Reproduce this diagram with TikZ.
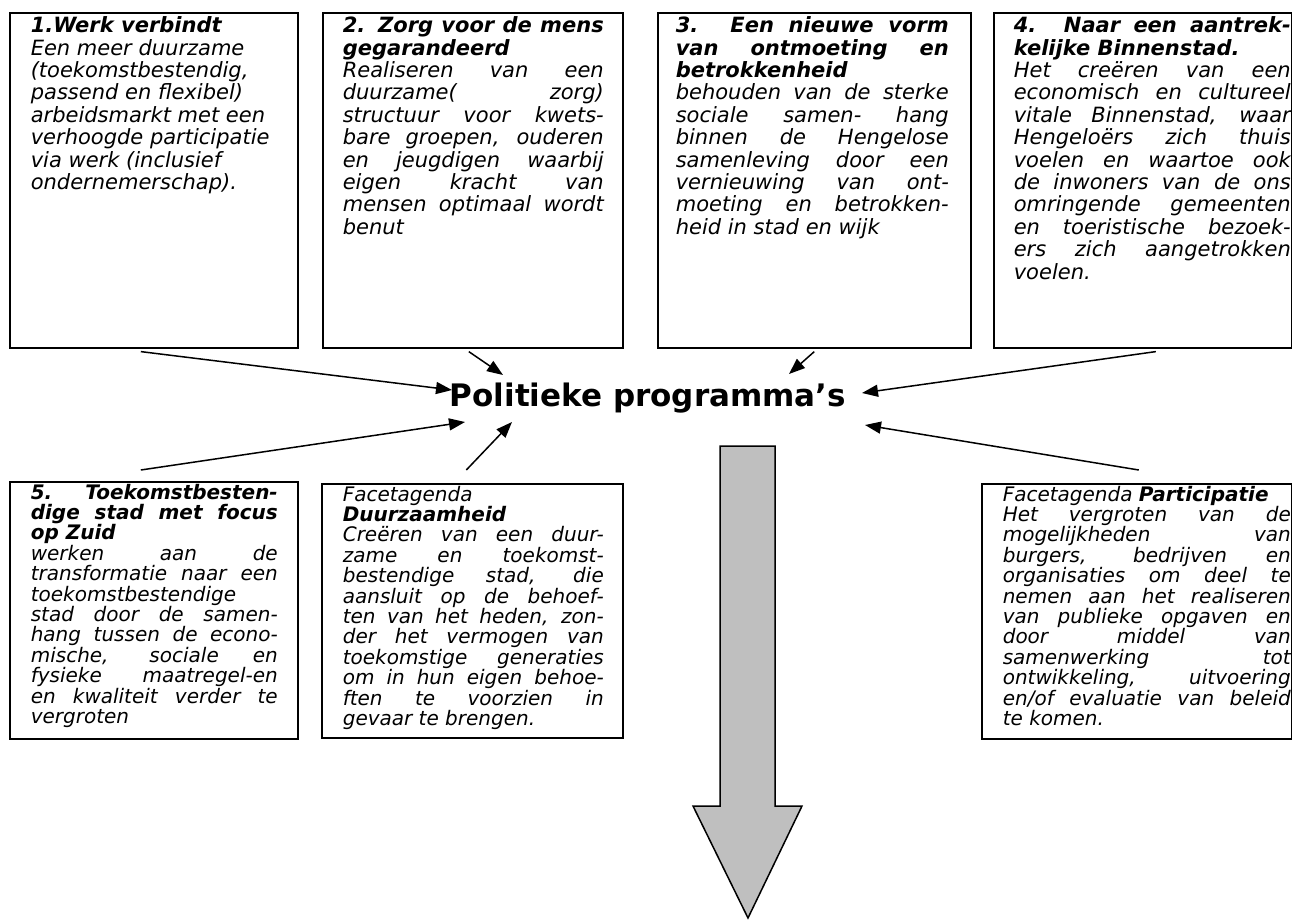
\documentclass[tikz,border=0pt]{standalone}
\usepackage{fontspec}
\setmainfont{DejaVu Sans}
\usetikzlibrary{positioning,calc,arrows.meta}

% lpad, width, rpad, height, text
\newcommand{\boxtext}[5]{\hspace*{#1}\parbox[t][#4][t]{#2}{\itshape\hyphenpenalty=10000 \exhyphenpenalty=10000 \tolerance=10000 #5}\hspace*{#3}}

\begin{document}
\begin{tikzpicture}[x=0.5pt,y=-0.5pt,
    tbox/.style={rectangle,draw,line width=0.8pt,anchor=north west,inner xsep=0pt,inner ysep=2pt,font=\fontsize{10.5}{11.2}\selectfont},
    lbox/.style={tbox,inner ysep=1pt,font=\fontsize{10}{10.2}\selectfont},
    conn/.style={line width=0.75pt,-{Triangle[length=8pt,width=6pt]}},
    bigarrow/.style={draw,line width=0.75pt,fill=black!25}]

\useasboundingbox (0,0) rectangle (1292,922);

% Programma's
\node[tbox] (p1) at (9,12) {\boxtext{10.5pt}{123pt}{10.5pt}{163.5pt}{\raggedright
\textbf{1.Werk verbindt}\\ Een meer duurzame\\ (toekomstbestendig,\\ passend en flexibel)\\ arbeidsmarkt met een\\ verhoogde participatie\\ via werk (inclusief\\ ondernemerschap).}};

\node[tbox] (p2) at (322,12) {\boxtext{10pt}{130.5pt}{9.5pt}{163.5pt}{%
\textbf{2. Zorg voor de mens}\linebreak \textbf{gegarandeerd}\\ Realiseren van een\linebreak duurzame( zorg)\linebreak structuur voor kwets-\linebreak bare groepen, ouderen\linebreak en jeugdigen waarbij\linebreak eigen kracht van\linebreak mensen optimaal wordt\linebreak benut}};

\node[tbox] (p3) at (657,12) {\boxtext{9pt}{136.5pt}{11pt}{163.5pt}{%
\textbf{3. Een nieuwe vorm}\linebreak \textbf{van ontmoeting en}\linebreak \textbf{betrokkenheid}\\ behouden van de sterke\linebreak sociale samen- hang\linebreak binnen de Hengelose\linebreak samenleving door een\linebreak vernieuwing van ont-\linebreak moeting en betrokken-\linebreak heid in stad en wijk}};

\node[tbox] (p4) at (993,12) {\boxtext{10pt}{138.5pt}{0.5pt}{163.5pt}{%
\textbf{4. Naar een aantrek-}\linebreak \textbf{kelijke Binnenstad.}\\ Het creëren van een\linebreak economisch en cultureel\linebreak vitale Binnenstad, waar\linebreak Hengeloërs zich thuis\linebreak voelen en waartoe ook\linebreak de inwoners van de ons\linebreak omringende gemeenten\linebreak en toeristische bezoek-\linebreak ers zich aangetrokken\linebreak voelen.}};

\node[lbox] (p5) at (9,481) {\boxtext{10.5pt}{123.5pt}{10pt}{126.5pt}{%
\textbf{5. Toekomstbesten-}\linebreak \textbf{dige stad met focus}\linebreak \textbf{op Zuid}\\ werken aan de\linebreak transformatie naar een\linebreak toekomstbestendige\linebreak stad door de samen-\linebreak hang tussen de econo-\linebreak mische, sociale en\linebreak fysieke maatregel-en\linebreak en kwaliteit verder te\linebreak vergroten}};

% Facetagenda's
\node[lbox] (fd) at (321,483) {\boxtext{10.5pt}{130.5pt}{9.5pt}{125pt}{%
Facetagenda\\ \textbf{Duurzaamheid}\\ Creëren van een duur-\linebreak zame en toekomst-\linebreak bestendige stad, die\linebreak aansluit op de behoef-\linebreak ten van het heden, zon-\linebreak der het vermogen van\linebreak toekomstige generaties\linebreak om in hun eigen behoe-\linebreak ften te voorzien in\linebreak gevaar te brengen.}};

\node[lbox] (fp) at (981,483) {\boxtext{10.5pt}{144pt}{0.5pt}{125.5pt}{%
Facetagenda \textbf{Participatie}\\ Het vergroten van de\linebreak mogelijkheden van\linebreak burgers, bedrijven en\linebreak organisaties om deel te\linebreak nemen aan het realiseren\linebreak van publieke opgaven en\linebreak door middel van\linebreak samenwerking tot\linebreak ontwikkeling, uitvoering\linebreak en/of evaluatie van beleid\linebreak te komen.}};

% Midden
\node[font=\fontsize{15.5}{18}\selectfont\bfseries] (pp) at (648,398) {Politieke programma’s};

% Pijlen
\coordinate (o1) at ($(p1.south)+(-13,3)$);
\coordinate (o2) at ($(p2.south)+(-4,3)$);
\coordinate (o3) at ($(p3.south)+(0,3)$);
\coordinate (o4) at ($(p4.south)+(13,3)$);
\coordinate (o5) at ($(p5.north)+(-13,-11)$);
\coordinate (o6) at ($(fd.north)+(-6,-13)$);
\coordinate (o7) at ($(fp.north)+(2,-13)$);
\coordinate (t1) at ($(pp)+(-196,-8)$);
\coordinate (t2) at ($(pp)+(-145,-23)$);
\coordinate (t3) at ($(pp)+(141,-24)$);
\coordinate (t4) at ($(pp)+(214,-5)$);
\coordinate (t5) at ($(pp)+(-183,24)$);
\coordinate (t6) at ($(pp)+(-136,24)$);
\coordinate (t7) at ($(pp)+(217,27)$);
\foreach \i in {1,...,7} {
    \draw[conn] (o\i) -- (t\i);
}

% Blokpijl
\draw[bigarrow] (720,446) -- (775,446) -- (775,806) -- (802,806) -- (748,918)
    -- (693,806) -- (720,806) -- cycle;

\end{tikzpicture}
\end{document}
